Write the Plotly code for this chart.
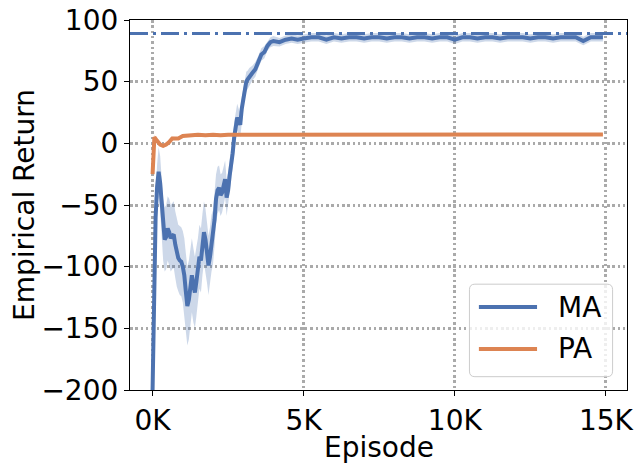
import plotly.graph_objects as go

# --- dados ---
episodes_ma = [0, 50, 100, 150, 200, 250, 300, 350, 400, 450, 500, 550, 600, 650, 700, 750,
               800, 850, 900, 950, 1000, 1050, 1100, 1150, 1200, 1250, 1300, 1350, 1400, 1450,
               1500, 1550, 1600, 1650, 1700, 1750, 1800, 1850, 1900, 1950, 2000, 2050, 2100,
               2150, 2200, 2250, 2300, 2350, 2400, 2450, 2500, 2550, 2600, 2650, 2700, 2750,
               2800, 2850, 2900, 2950, 3000, 3050, 3100, 3150, 3200, 3300, 3400, 3500, 3600,
               3700, 3800, 3900, 4000, 4200, 4400, 4600, 4800, 5000, 5250, 5500, 5750, 6000,
               6250, 6500, 6750, 7000, 7250, 7500, 7750, 8000, 8250, 8500, 8750, 9000, 9250,
               9500, 9750, 10000, 10250, 10500, 10750, 11000, 11250, 11500, 11750, 12000,
               12250, 12500, 12750, 13000, 13250, 13500, 13750, 14000, 14250, 14500, 14750, 14900]
ma_mean = [-200, -120, -60, -35, -23, -32, -48, -70, -78, -76, -69, -72, -77, -75, -74, -82,
           -89, -93, -95, -96, -100, -107, -120, -132, -127, -118, -107, -115, -121, -112,
           -104, -92, -95, -82, -72, -78, -88, -99, -92, -81, -76, -62, -45,
           -38, -36, -42, -40, -35, -29, -44, -38, -26, -18, -8, 5, 12,
           21, 18, 15, 28, 36, 46, 50, 52, 54, 57, 60, 66, 72,
           74, 79, 82, 83, 82, 84, 85, 84, 85, 86, 86, 84, 86,
           85, 86, 86, 85, 86, 86, 85, 86, 86, 85, 86, 86, 85,
           86, 86, 84, 86, 86, 85, 86, 86, 85, 86, 86,
           86, 85, 86, 86, 85, 86, 86, 86, 83, 86, 86, 86]
ma_std = [4, 10, 14, 18, 20, 22, 24, 25, 26, 26, 26, 27, 27, 27, 27, 27,
          27, 27, 28, 28, 29, 30, 31, 32, 32, 31, 30, 30, 29, 28,
          27, 26, 26, 25, 25, 25, 25, 24, 24, 23, 22, 21, 20,
          19, 18, 17, 16, 16, 15, 15, 14, 13, 13, 12, 12, 11,
          11, 10, 10, 9, 9, 8, 8, 7, 7, 6, 6, 5, 5,
          5, 4, 4, 4, 3.5, 3.5, 3.5, 3.5, 3.5, 3.5, 3.5, 3.5, 3.5,
          3.5, 3.5, 3.5, 3.5, 3.5, 3.5, 3.5, 3.5, 3.5, 3.5, 3.5, 3.5, 3.5,
          3.5, 3.5, 3.5, 3.5, 3.5, 3.5, 3.5, 3.5, 3.5, 3.5, 3.5,
          3.5, 3.5, 3.5, 3.5, 3.5, 3.5, 3.5, 3.5, 3.5, 3.5, 3.5, 3.5]

episodes_pa = [0, 60, 150, 250, 350, 450, 550, 650, 750, 850, 1000, 1250, 1500, 1750, 2000,
               2250, 2500, 3000, 3500, 4000, 4500, 5000, 5500, 6000, 6500, 7000, 7500, 8000,
               8500, 9000, 9500, 10000, 10500, 11000, 11500, 12000, 12500, 13000, 13500,
               14000, 14500, 14900]
pa_mean = [-25, 5, 2, -1, -2, -1, 1, 4, 4, 4, 6, 6.5, 7, 6.5, 7,
           6.5, 7, 7, 7, 7, 7, 7.2, 7, 7, 7, 6.8, 7, 6.7,
           6.8, 7, 7, 7.2, 7, 7, 7, 7, 6.8, 7, 7,
           7, 7, 7.2]
pa_std = [2, 2, 1.5, 1.5, 1.5, 1.5, 1.5, 1.5, 1.2, 1.2, 1, 1, 1, 1, 1,
          1, 1, 1, 1, 1, 1, 1, 1, 1, 1, 1, 1, 1,
          1, 1, 1, 1, 1, 1, 1, 1, 1, 1, 1,
          1, 1, 1]

optimal_return = 89
x_tick_vals = [0, 5000, 10000, 15000]
x_tick_text = ["0K", "5K", "10K", "15K"]
y_tick_vals = [-200, -150, -100, -50, 0, 50, 100]
series_names = ["MA", "PA"]

COR_MA = "#4C72B0"
COR_PA = "#DD8452"
FONTE = "DejaVu Sans"
TAM = 28


def banda(x, media, desvio, cor):
    upper = [m + s for m, s in zip(media, desvio)]
    lower = [m - s for m, s in zip(media, desvio)]
    return go.Scatter(x=x + x[::-1], y=upper + lower[::-1], fill="toself",
                      fillcolor=cor, line=dict(width=0), hoverinfo="skip",
                      showlegend=False)


fig = go.Figure()
fig.add_trace(banda(episodes_ma, ma_mean, ma_std, "rgba(76,114,176,0.28)"))
fig.add_trace(banda(episodes_pa, pa_mean, pa_std, "rgba(221,132,82,0.28)"))
fig.add_trace(go.Scatter(x=episodes_ma, y=ma_mean, mode="lines", name=series_names[0],
                         line=dict(color=COR_MA, width=4), showlegend=False))
fig.add_trace(go.Scatter(x=episodes_pa, y=pa_mean, mode="lines", name=series_names[1],
                         line=dict(color=COR_PA, width=4), showlegend=False))

# linha de retorno ótimo (traço-ponto)
fig.add_shape(type="line", xref="paper", x0=0, x1=1, yref="y",
              y0=optimal_return, y1=optimal_return, layer="above",
              line=dict(color=COR_MA, width=3, dash="18px,5px,3px,5px"))

# legenda desenhada à mão (caixa arredondada como no matplotlib)
bx0, bx1, by0, by1 = 0.683, 0.971, 0.036, 0.286
rx, ry = 0.011, 0.015
caminho = (f"M{bx0+rx},{by0} L{bx1-rx},{by0} Q{bx1},{by0} {bx1},{by0+ry} "
           f"L{bx1},{by1-ry} Q{bx1},{by1} {bx1-rx},{by1} L{bx0+rx},{by1} "
           f"Q{bx0},{by1} {bx0},{by1-ry} L{bx0},{by0+ry} Q{bx0},{by0} {bx0+rx},{by0} Z")
fig.add_shape(type="path", xref="paper", yref="paper", path=caminho, layer="above",
              fillcolor="rgba(255,255,255,0.8)", line=dict(color="#cccccc", width=1))
for nome, cor, yy in zip(series_names, [COR_MA, COR_PA], [0.224, 0.111]):
    fig.add_shape(type="line", xref="paper", yref="paper", x0=0.702, x1=0.819,
                  y0=yy, y1=yy, layer="above", line=dict(color=cor, width=4))
    fig.add_annotation(text=nome, xref="paper", yref="paper", x=0.858, y=yy,
                       xanchor="left", yanchor="middle", showarrow=False,
                       font=dict(size=TAM, color="black", family=FONTE))

# título do eixo x como anotação (fica mais perto dos ticks, como no original)
fig.add_annotation(text="Episode", xref="paper", yref="paper", x=0.5, y=0,
                   xanchor="center", yanchor="middle", yshift=-57, showarrow=False,
                   font=dict(size=TAM, color="black", family=FONTE))

eixo = dict(showline=True, mirror=True, linecolor="black", linewidth=1.2,
            ticks="outside", ticklen=5, tickwidth=1.2, tickcolor="black",
            showgrid=True, gridcolor="#aaaaaa", gridwidth=2.5, griddash="2.5px,2.8px",
            zeroline=False, automargin=False, ticklabeloverflow="allow",
            tickfont=dict(size=TAM, color="black", family=FONTE))

fig.update_xaxes(range=[-747, 15697], tickvals=x_tick_vals, ticktext=x_tick_text, **eixo)
fig.update_yaxes(range=[-200, 100], tickvals=y_tick_vals,
                 title=dict(text="Empirical Return", font=dict(size=TAM, color="black", family=FONTE),
                            standoff=13), **eixo)

# a página tem 8px de margem no body: a figura fica 8px menor
fig.update_layout(width=634, height=463, margin=dict(l=122, r=15, t=12, b=81),
                  paper_bgcolor="white", plot_bgcolor="white",
                  font=dict(family=FONTE, color="black"), showlegend=False)

fig.write_html("out.html")
